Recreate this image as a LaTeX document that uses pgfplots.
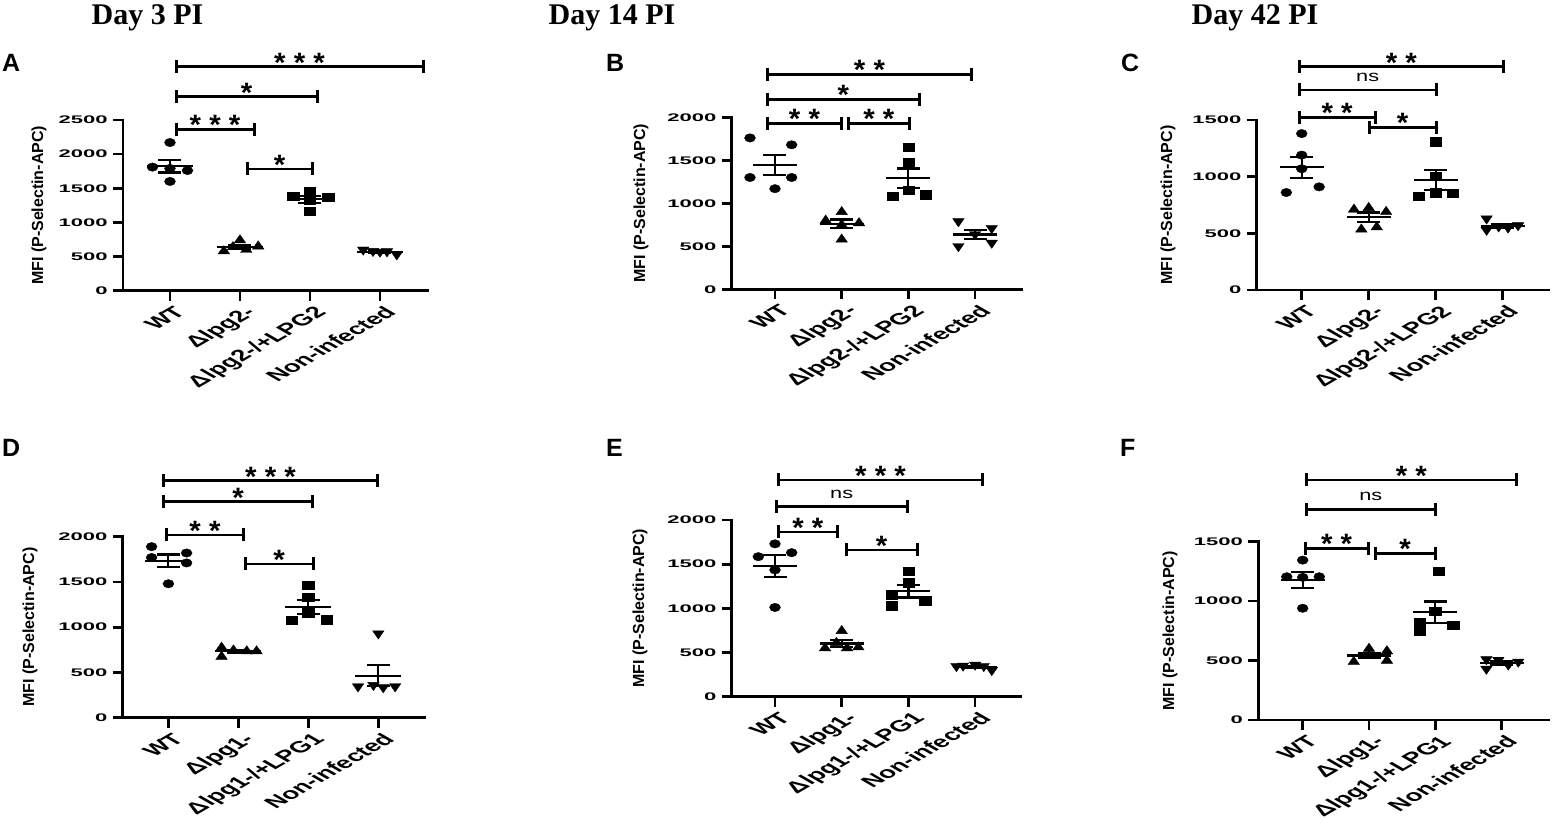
\documentclass[border=0pt]{standalone}
\usepackage{pgfplots}
\pgfplotsset{compat=1.18}
\usepackage{fontspec}
\setmainfont{Liberation Sans}
\newfontfamily\timesf{Liberation Serif}

\pgfplotsset{
 panel/.style={
   scale only axis, clip=false, anchor=south west,
   axis x line=bottom, axis y line=left,
   x axis line style={-}, y axis line style={-},
   axis line style={line width=2.7pt, line cap=rect, black},
   tick align=outside, major tick length=10pt,
   tick style={line width=2.7pt, black},
   xtick={0,1,2,3}, ymin=0,
   yticklabel style={font=\fontsize{11}{12}\selectfont\bfseries, xscale=2, anchor=east, inner sep=2.5pt},
   xticklabel style={font=\fontsize{16}{18}\selectfont\bfseries, xshift=3pt, yshift=-3pt, xscale=1.73, rotate=45, anchor=north east, inner sep=1pt},
 },
 circ/.style={only marks, black, mark=*, mark size=4.2pt, mark options={xscale=1.3, fill=black, draw=black, line width=0.4pt}},
 tri/.style={only marks, black, mark=triangle*, mark size=5.5pt, mark options={xscale=1.2, fill=black, draw=black, line width=0.4pt}},
 sq/.style={only marks, black, mark=square*, mark size=4.2pt, mark options={xscale=1.35, fill=black, draw=black, line width=0.4pt}},
 itri/.style={only marks, black, mark=triangle*, mark size=5.5pt, mark options={rotate=180, xscale=1.2, fill=black, draw=black, line width=0.4pt}},
 msem/.style={only marks, black, mark=-, mark size=#1, mark options={line width=2.2pt, black},
   error bars/.cd, y dir=both, y explicit, error bar style={line width=2.2pt, black},
   error mark options={rotate=90, mark size=11.5pt, line width=2.2pt, black}},
}

\newcommand{\sig}[4]{%
  \draw[line width=2.5pt] (#1,#3) -- (#2,#3);
  \draw[line width=3pt] (#1,#3-6.5) -- (#1,#3+6.5);
  \draw[line width=3pt] (#2,#3-6.5) -- (#2,#3+6.5);
  \node[anchor=base, inner sep=0pt, font=\fontsize{28}{30}\selectfont\bfseries, xscale=1.05] at ({(#1+#2)/2},#3+5.5) {#4};
}
\newcommand{\ns}[3]{%
  \draw[line width=2.5pt] (#1,#3) -- (#2,#3);
  \draw[line width=3pt] (#1,#3-6.5) -- (#1,#3+6.5);
  \draw[line width=3pt] (#2,#3-6.5) -- (#2,#3+6.5);
  \node[anchor=base, inner sep=0pt, font=\fontsize{15.5}{17}\selectfont, xscale=1.4] at ({(#1+#2)/2},#3-8.5) {ns};
}
\newcommand{\ylab}[2]{\node[rotate=90, font=\fontsize{16}{18}\selectfont\bfseries] at (#1,#2) {MFI (P-Selectin-APC)};}

\begin{document}
\begin{tikzpicture}
\useasboundingbox (0,0) rectangle (1553pt,830pt);

% ---------------- A ----------------
\begin{axis}[panel, at={(123pt,539.3pt)}, width=305pt, height=170.7pt,
  xmin=-0.671, xmax=3.686, ymax=2500,
  ytick={0,500,1000,1500,2000,2500}, yticklabels={0,500,1000,1500,2000,2500},
  xticklabels={WT,Δlpg2-,Δlpg2-/+LPG2,Non-infected}]
\addplot[circ] coordinates {(0,2170) (-0.25,1810) (0,1790) (0.25,1760) (0,1600)};
\addplot[tri] coordinates {(0.77,580) (1,740) (1.09,600) (1.26,650) (0.9,640)};
\addplot[sq] coordinates {(2,1450) (1.76,1380) (2.26,1370) (2,1330) (2,1160)};
\addplot[itri] coordinates {(2.76,600) (2.9,580) (3,570) (3.1,575) (3.24,530)};
\addplot[msem=23pt] coordinates {(0,1826) +- (0,93.6) (1,642) +- (0,27.6) (2,1338) +- (0,48.5) (3,571) +- (0,11.4)};
\end{axis}

% ---------------- B ----------------
\begin{axis}[panel, at={(731.7pt,540.7pt)}, width=290pt, height=172pt,
  xmin=-0.649, xmax=3.699, ymax=2000,
  ytick={0,500,1000,1500,2000}, yticklabels={0,500,1000,1500,2000},
  xticklabels={WT,Δlpg2-,Δlpg2-/+LPG2,Non-infected}]
\addplot[circ] coordinates {(-0.375,1760) (0.25,1680) (-0.375,1300) (0.25,1300) (0,1170)};
\addplot[tri] coordinates {(1,900) (0.76,800) (1.26,770) (1,750) (1,580)};
\addplot[sq] coordinates {(2,1650) (2,1470) (2,1150) (1.76,1080) (2.26,1100)};
\addplot[itri] coordinates {(2.75,790) (3,640) (3.25,710) (2.75,500) (3.25,540)};
\addplot[msem=22pt] coordinates {(0,1442) +- (0,116.6) (1,760) +- (0,51.9) (2,1290) +- (0,114.4) (3,636) +- (0,53.3)};
\end{axis}

% ---------------- C ----------------
\begin{axis}[panel, at={(1256.7pt,540pt)}, width=291.6pt, height=170pt,
  xmin=-0.672, xmax=3.681, ymax=1500,
  ytick={0,500,1000,1500}, yticklabels={0,500,1000,1500},
  xticklabels={WT,Δlpg2-,Δlpg2-/+LPG2,Non-infected}]
\addplot[circ] coordinates {(0,1380) (0,1190) (0,1070) (-0.23,860) (0.26,910)};
\addplot[tri] coordinates {(0.78,710) (1,725) (1.26,690) (0.89,535) (1.12,555)};
\addplot[sq] coordinates {(2,1310) (2,1005) (1.75,830) (2,860) (2.25,855)};
\addplot[itri] coordinates {(2.76,630) (2.76,530) (2.94,560) (3.08,550) (3.23,570)};
\addplot[msem=22pt] coordinates {(0,1082) +- (0,94.7) (1,643) +- (0,40.5) (2,972) +- (0,89.9) (3,568) +- (0,16.9)};
\end{axis}

% ---------------- D ----------------
\begin{axis}[panel, at={(122.7pt,112.3pt)}, width=302.3pt, height=181pt,
  xmin=-0.653, xmax=3.667, ymax=2000,
  ytick={0,500,1000,1500,2000}, yticklabels={0,500,1000,1500,2000},
  xticklabels={WT,Δlpg1-,Δlpg1-/+LPG1,Non-infected}]
\addplot[circ] coordinates {(-0.24,1890) (-0.24,1770) (0.26,1820) (0.26,1710) (0,1480)};
\addplot[tri] coordinates {(0.76,775) (0.76,675) (0.93,745) (1.12,735) (1.26,735)};
\addplot[sq] coordinates {(2,1465) (2,1330) (2,1160) (1.76,1080) (2.26,1085)};
\addplot[itri] coordinates {(3,930) (2.71,345) (2.93,360) (3.07,335) (3.24,345)};
\addplot[msem=23pt] coordinates {(0,1734) +- (0,70.0) (1,733) +- (0,16.2) (2,1224) +- (0,75.3) (3,463) +- (0,116.8)};
\end{axis}

% ---------------- E ----------------
\begin{axis}[panel, at={(731.7pt,133.3pt)}, width=289.3pt, height=176.7pt,
  xmin=-0.649, xmax=3.688, ymax=2000,
  ytick={0,500,1000,1500,2000}, yticklabels={0,500,1000,1500,2000},
  xticklabels={WT,Δlpg1-,Δlpg1-/+LPG1,Non-infected}]
\addplot[circ] coordinates {(0,1730) (-0.25,1585) (0.25,1630) (0,1435) (0,1010)};
\addplot[tri] coordinates {(1,745) (0.75,550) (0.92,610) (1.08,550) (1.25,560)};
\addplot[sq] coordinates {(2,1420) (2,1290) (1.75,1150) (1.75,1030) (2.25,1085)};
\addplot[itri] coordinates {(2.72,345) (2.82,350) (3,360) (3.13,345) (3.25,300)};
\addplot[msem=22pt] coordinates {(0,1478) +- (0,126.3) (1,603) +- (0,37.2) (2,1195) +- (0,71.1) (3,340) +- (0,10.4)};
\end{axis}

% ---------------- F ----------------
\begin{axis}[panel, at={(1258.3pt,110pt)}, width=290pt, height=178.3pt,
  xmin=-0.669, xmax=3.703, ymax=1500,
  ytick={0,500,1000,1500}, yticklabels={0,500,1000,1500},
  xticklabels={WT,Δlpg1-,Δlpg1-/+LPG1,Non-infected}]
\addplot[circ] coordinates {(0,1345) (-0.24,1205) (0,1200) (0.25,1205) (0,940)};
\addplot[tri] coordinates {(1,600) (0.77,490) (1,540) (1.27,580) (1.27,500)};
\addplot[sq] coordinates {(2.05,1250) (2,915) (1.76,825) (1.76,750) (2.27,800)};
\addplot[itri] coordinates {(2.77,510) (2.95,505) (3.1,465) (3.25,490) (2.77,430)};
\addplot[msem=22pt] coordinates {(0,1179) +- (0,65.8) (1,542) +- (0,21.5) (2,908) +- (0,89.6) (3,480) +- (0,14.7)};
\end{axis}

% ---------------- annotations in pixel coordinates ----------------
\begin{scope}[x=1pt, y=-1pt, shift={(0pt,830pt)}]
  \node[anchor=base, font=\timesf\fontsize{30}{32}\selectfont\bfseries] at (147.5,25) {Day 3 PI};
  \node[anchor=base, font=\timesf\fontsize{30}{32}\selectfont\bfseries] at (612,25) {Day 14 PI};
  \node[anchor=base, font=\timesf\fontsize{30}{32}\selectfont\bfseries] at (1255,25) {Day 42 PI};
  \foreach \l/\x/\y in {A/2/72, B/606/72, C/1121/72, D/2/457, E/606/457, F/1120/457}
    \node[anchor=base west, inner sep=0pt, font=\fontsize{25}{27}\selectfont\bfseries] at (\x,\y) {\l};
  \ylab{39}{205.4}
  \ylab{641}{203.3}
  \ylab{1168}{205}
  \ylab{30}{627}
  \ylab{640}{608.3}
  \ylab{1170}{630.8}
  % A
  \sig{176}{423}{66.7}{* * *}
  \sig{176}{317}{96.7}{*}
  \sig{176}{254}{129.3}{* * *}
  \sig{247}{312}{169}{*}
  % B
  \sig{767.3}{971.7}{74.3}{* *}
  \sig{767.3}{919.3}{99.3}{*}
  \sig{767.3}{841.7}{123.3}{* *}
  \sig{848.3}{909.3}{123.3}{* *}
  % C
  \sig{1299.3}{1503.3}{66.7}{* *}
  \ns{1299.3}{1436}{90}
  \sig{1299.3}{1375}{117.3}{* *}
  \sig{1369.3}{1436}{127.3}{*}
  % D
  \sig{163.3}{377.7}{480.7}{* * *}
  \sig{163.3}{312.7}{501.7}{*}
  \sig{166.7}{243.3}{535}{* *}
  \sig{245}{313.3}{564}{*}
  % E
  \sig{778.3}{982.7}{480}{* * *}
  \ns{776}{907.3}{506.7}
  \sig{778.3}{837.3}{532}{* *}
  \sig{846}{917.3}{550}{*}
  % F
  \sig{1306.7}{1516}{480}{* *}
  \ns{1306.7}{1435}{509.3}
  \sig{1305}{1368.3}{548.3}{* *}
  \sig{1375}{1435}{553.3}{*}
\end{scope}
\end{tikzpicture}
\end{document}
